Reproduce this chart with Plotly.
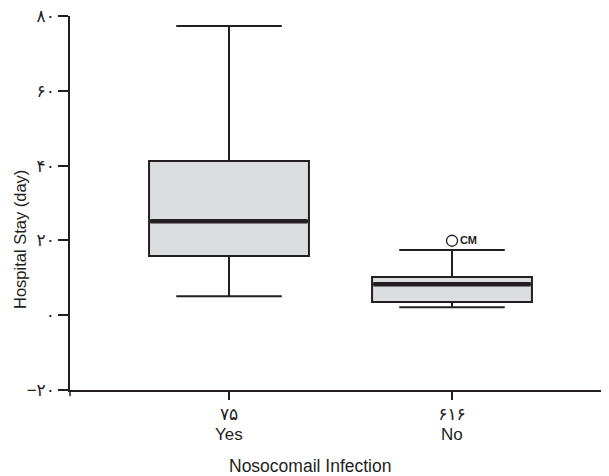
import plotly.graph_objects as go

# ---- data ----
categories = ["Yes", "No"]
counts = ["۷۵", "۶۱۶"]
positions = [0, 1]
q1 = [15.8, 3.5]
median = [25.1, 8.3]
q3 = [41.2, 10.2]
lower_fence = [5.1, 2.1]
upper_fence = [77.3, 17.4]
outlier_cat = [1]
outlier_val = [19.9]
outlier_label = ["CM"]
y_tickvals = [-20, 0, 20, 40, 60, 80]
y_ticktext = ["−۲۰", "۰", "۲۰", "۴۰", "۶۰", "۸۰"]

BOX_W = 0.717
LINE = "#231f20"
FILL = "#dcdddf"
FONT = "Liberation Sans, Arial, DejaVu Sans, sans-serif"

fig = go.Figure()
for i in range(len(categories)):
    fig.add_trace(go.Box(
        x=[positions[i]], q1=[q1[i]], median=[median[i]], q3=[q3[i]],
        lowerfence=[lower_fence[i]], upperfence=[upper_fence[i]],
        width=BOX_W, whiskerwidth=0.66, fillcolor=FILL,
        line=dict(color=LINE, width=2), boxpoints=False,
        hoverinfo="skip", showlegend=False,
    ))
    # thick median line
    fig.add_trace(go.Scatter(
        x=[positions[i] - BOX_W / 2 + 0.006, positions[i] + BOX_W / 2 - 0.006],
        y=[median[i], median[i]], mode="lines",
        line=dict(color=LINE, width=4.5), showlegend=False, hoverinfo="skip",
    ))

fig.add_trace(go.Scatter(
    x=[positions[c] for c in outlier_cat], y=outlier_val,
    mode="markers+text", text=outlier_label, textposition="middle right",
    textfont=dict(family=FONT, size=11, color=LINE, weight="bold"),
    marker=dict(symbol="circle-open", size=11, color=LINE, line=dict(width=1.3)),
    showlegend=False, hoverinfo="skip",
))

# page body has an 8px margin, so the figure is 8px smaller and shifted
fig.update_layout(
    width=601, height=468,
    margin=dict(l=62, r=0, t=8, b=86),
    paper_bgcolor="white", plot_bgcolor="white",
    font=dict(family=FONT, size=14, color=LINE),
    xaxis=dict(range=[-0.713, 1.704], tickvals=positions, ticktext=counts,
               showline=True, linecolor=LINE, linewidth=2,
               ticks="outside", ticklen=8, tickwidth=1.5, tickcolor=LINE,
               showgrid=False, zeroline=False, ticklabeloverflow="allow",
               tickfont=dict(size=17)),
    yaxis=dict(range=[-20, 80], tickvals=y_tickvals, ticktext=y_ticktext,
               showline=True, linecolor=LINE, linewidth=1.5,
               ticks="outside", ticklen=10, tickwidth=1.5, tickcolor=LINE,
               showgrid=False, zeroline=False, ticklabeloverflow="allow",
               tickfont=dict(size=17)),
)

# extension of the y-axis line below the x axis
fig.add_shape(type="line", xref="paper", yref="paper", x0=0, x1=0, y0=0, y1=-0.017,
              line=dict(color=LINE, width=1.5))

for i, c in enumerate(categories):
    fig.add_annotation(x=positions[i], xref="x", y=0, yref="paper", yshift=-44,
                       text=c, showarrow=False, yanchor="middle",
                       font=dict(size=17, color=LINE))

fig.add_annotation(x=0.445, xref="paper", y=-0.203, yref="paper",
                   text="Nosocomail Infection", showarrow=False,
                   yanchor="middle", font=dict(size=17.5, color=LINE))
fig.add_annotation(x=0, xref="paper", xshift=-50, y=0.401, yref="paper",
                   text="Hospital Stay (day)", showarrow=False, textangle=-90,
                   xanchor="center", yanchor="middle", font=dict(size=16.5, color=LINE))

fig.write_html("out.html")
